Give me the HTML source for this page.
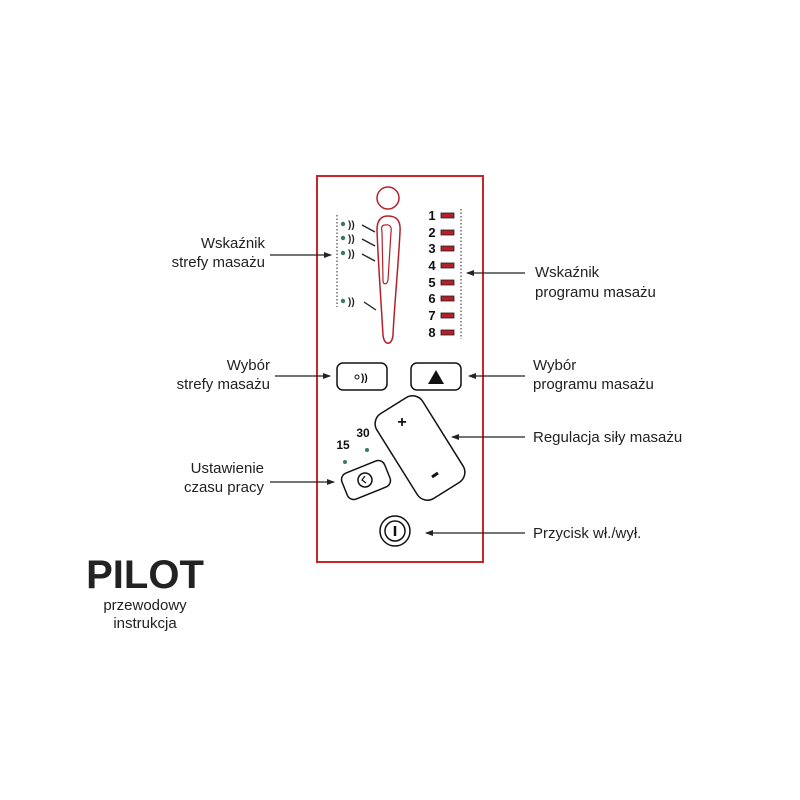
<!DOCTYPE html>
<html><head><style>body{margin:0;background:#fff}svg{display:block}</style></head><body>
<svg width="800" height="800" viewBox="0 0 800 800" xmlns="http://www.w3.org/2000/svg" font-family="Liberation Sans, sans-serif">
<defs><marker id="a" markerWidth="8" markerHeight="8" refX="7" refY="4" orient="auto" markerUnits="userSpaceOnUse"><path d="M0,1 L8,4 L0,7 Z" fill="#222"/></marker></defs>
<rect x="317" y="176" width="166" height="386" fill="none" stroke="#c8262c" stroke-width="2"/>
<circle cx="388" cy="198" r="11" fill="none" stroke="#b2202a" stroke-width="1.5"/>
<path d="M388,216 C396,216 401,220 400,232 C398,270 394,310 393,335 C392,346 384,346 383,335 C381,300 378,260 377,230 C377,220 381,216 388,216 Z" fill="none" stroke="#b2202a" stroke-width="1.5"/>
<path d="M385,225 C390,224 392,227 391,232 L388,280 C387,285 383,285 383,280 L382,232 C381,227 382,225 385,225 Z" fill="none" stroke="#b2202a" stroke-width="1.2"/>
<line x1="337" y1="215" x2="337" y2="307" stroke="#222" stroke-dasharray="1.5,2" />
<line x1="461" y1="209" x2="461" y2="339" stroke="#222" stroke-dasharray="1.5,2" />
<g fill="#3a7a5a"><circle cx="343" cy="224" r="2.2"/><circle cx="343" cy="238" r="2.2"/><circle cx="343" cy="253" r="2.2"/><circle cx="343" cy="301" r="2.2"/></g>
<g font-size="10" font-weight="bold" fill="#222"><text x="348" y="228">))</text><text x="348" y="242">))</text><text x="348" y="257">))</text><text x="348" y="305">))</text></g>
<g stroke="#222" stroke-width="1.3"><line x1="362" y1="225" x2="375" y2="232"/><line x1="362" y1="239" x2="375" y2="246"/><line x1="362" y1="254" x2="375" y2="261"/><line x1="364" y1="302" x2="376" y2="310"/></g>
<g font-size="13" font-weight="bold" fill="#111" text-anchor="middle">
<text x="432" y="220">1</text><text x="432" y="237">2</text><text x="432" y="253">3</text><text x="432" y="270">4</text><text x="432" y="287">5</text><text x="432" y="303">6</text><text x="432" y="320">7</text><text x="432" y="337">8</text></g>
<g fill="#b2202a" stroke="#222" stroke-width="0.8">
<rect x="441" y="213" width="13" height="5"/><rect x="441" y="230" width="13" height="5"/><rect x="441" y="246" width="13" height="5"/><rect x="441" y="263" width="13" height="5"/><rect x="441" y="280" width="13" height="5"/><rect x="441" y="296" width="13" height="5"/><rect x="441" y="313" width="13" height="5"/><rect x="441" y="330" width="13" height="5"/></g>
<rect x="337" y="363" width="50" height="27" rx="6" fill="none" stroke="#111" stroke-width="1.5"/>
<circle cx="357" cy="377" r="2" fill="none" stroke="#111"/><text x="361" y="381" font-size="10" font-weight="bold">))</text>
<rect x="411" y="363" width="50" height="27" rx="6" fill="none" stroke="#111" stroke-width="1.5"/>
<path d="M428,384 L436,370 L444,384 Z" fill="#111"/>
<g transform="translate(420,448) rotate(-32)"><rect x="-27" y="-50" width="54" height="100" rx="12" fill="none" stroke="#111" stroke-width="1.5"/></g>
<text x="402" y="427" font-size="16" font-weight="bold" text-anchor="middle" fill="#111">+</text>
<line x1="432" y1="477" x2="438" y2="473" stroke="#111" stroke-width="3"/>
<g transform="translate(366,480) rotate(-22)"><rect x="-23" y="-14" width="46" height="28" rx="7" fill="none" stroke="#111" stroke-width="1.5"/></g>
<circle cx="365" cy="480" r="7" fill="none" stroke="#111" stroke-width="1.5"/><path d="M365,476 L362,480 L366,483" fill="none" stroke="#111" stroke-width="1.2"/>
<text x="343" y="449" font-size="12" font-weight="bold" fill="#111" text-anchor="middle">15</text>
<text x="363" y="437" font-size="12" font-weight="bold" fill="#111" text-anchor="middle">30</text>
<circle cx="345" cy="462" r="2" fill="#3a7a5a"/><circle cx="367" cy="450" r="2" fill="#3a7a5a"/>
<circle cx="395" cy="531" r="15" fill="none" stroke="#111" stroke-width="1.5"/>
<circle cx="395" cy="531" r="10" fill="none" stroke="#111" stroke-width="1.5"/>
<line x1="395" y1="526" x2="395" y2="536" stroke="#111" stroke-width="2.5"/>
<g stroke="#222" stroke-width="1.2" marker-end="url(#a)">
<line x1="270" y1="255" x2="331" y2="255"/>
<line x1="525" y1="273" x2="467" y2="273"/>
<line x1="275" y1="376" x2="330" y2="376"/>
<line x1="525" y1="376" x2="469" y2="376"/>
<line x1="525" y1="437" x2="452" y2="437"/>
<line x1="270" y1="482" x2="334" y2="482"/>
<line x1="525" y1="533" x2="426" y2="533"/>
</g>
<g font-size="15" fill="#222">
<text x="265" y="248" text-anchor="end">Wskaźnik</text><text x="265" y="267" text-anchor="end">strefy masażu</text>
<text x="535" y="277">Wskaźnik</text><text x="535" y="297">programu masażu</text>
<text x="270" y="370" text-anchor="end">Wybór</text><text x="270" y="389" text-anchor="end">strefy masażu</text>
<text x="533" y="370">Wybór</text><text x="533" y="389">programu masażu</text>
<text x="533" y="442">Regulacja siły masażu</text>
<text x="264" y="473" text-anchor="end">Ustawienie</text><text x="264" y="492" text-anchor="end">czasu pracy</text>
<text x="533" y="538">Przycisk wł./wył.</text>
</g>
<text x="145" y="588" font-size="40" font-weight="bold" fill="#222" text-anchor="middle">PILOT</text>
<text x="145" y="610" font-size="15" fill="#222" text-anchor="middle">przewodowy</text>
<text x="145" y="628" font-size="15" fill="#222" text-anchor="middle">instrukcja</text>
</svg>
</body></html>
